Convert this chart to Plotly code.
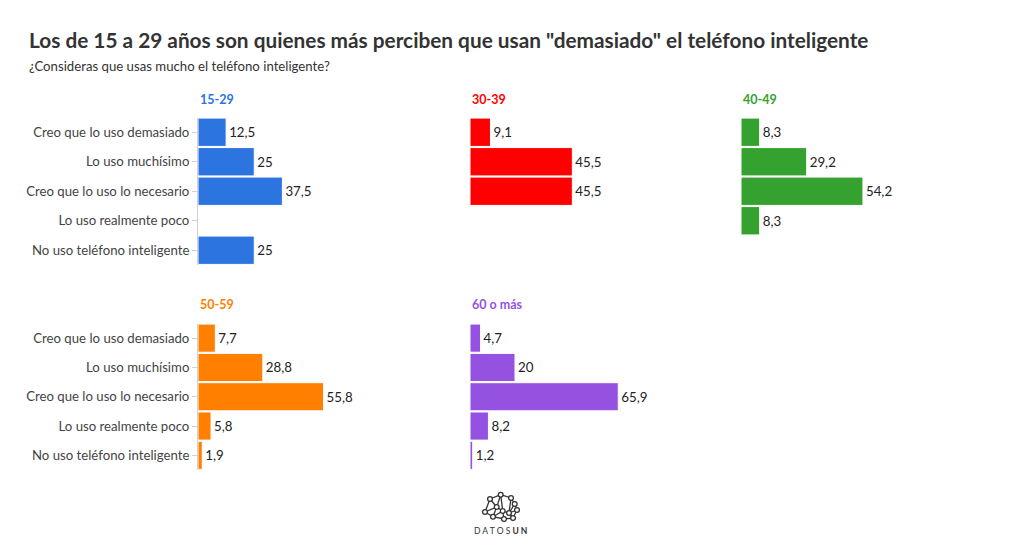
import plotly.graph_objects as go

W, H = 1020, 552

categories = [
    "Creo que lo uso demasiado",
    "Lo uso muchísimo",
    "Creo que lo uso lo necesario",
    "Lo uso realmente poco",
    "No uso teléfono inteligente",
]
groups = ["15-29", "30-39", "40-49", "50-59", "60 o más"]
v_15_29 = [12.5, 25, 37.5, None, 25]
v_30_39 = [9.1, 45.5, 45.5, None, None]
v_40_49 = [8.3, 29.2, 54.2, 8.3, None]
v_50_59 = [7.7, 28.8, 55.8, 5.8, 1.9]
v_60_mas = [4.7, 20, 65.9, 8.2, 1.2]
values = [v_15_29, v_30_39, v_40_49, v_50_59, v_60_mas]
colors = ["#2C74DF", "#FF0000", "#35A12E", "#FF7F00", "#9552E0"]

FONT = "Lato, Roboto, sans-serif"
ML, MR = 198, 54
PW = W - ML - MR

def px_x(p):
    return (p - ML) / PW

def px_y(p):
    return 1 - p / H

col_px = [(198, 423), (470, 695), (741, 966)]
row_px = [(117.5, 265), (323.5, 470)]
title_y = [99, 304]

fig = go.Figure()
layout_axes = {}
annotations = []
for i, (g, vals, c) in enumerate(zip(groups, values, colors)):
    r, cidx = divmod(i, 3)
    n = i + 1
    xa = "x" if n == 1 else f"x{n}"
    ya = "y" if n == 1 else f"y{n}"
    txt = [None if v is None else (f"{v:g}".replace(".", ",")) for v in vals]
    fig.add_trace(go.Bar(
        y=categories, x=vals, orientation="h", text=txt, textposition="outside",
        textfont=dict(size=13.3, color="#222", family=FONT),
        marker=dict(color=c, line=dict(color="white", width=1)),
        cliponaxis=False, xaxis=xa, yaxis=ya, showlegend=False,
        hovertemplate="%{y}: %{text}<extra>" + g + "</extra>",
    ))
    x0, x1 = col_px[cidx]
    y0, y1 = row_px[r]
    layout_axes["xaxis" if n == 1 else f"xaxis{n}"] = dict(
        domain=[px_x(x0), px_x(x1)], range=[0, 100], anchor=ya,
        visible=False, fixedrange=True)
    first_col = cidx == 0
    layout_axes["yaxis" if n == 1 else f"yaxis{n}"] = dict(
        domain=[px_y(y1), px_y(y0)], anchor=xa, type="category",
        categoryorder="array", categoryarray=categories, autorange="reversed",
        showticklabels=first_col, showline=first_col, linecolor="#d0d0d0", linewidth=1,
        ticks="outside" if first_col else "", ticklen=5, tickcolor="#d0d0d0",
        showgrid=False, zeroline=False, fixedrange=True,
        tickfont=dict(size=13.2, color="#444", family=FONT))
    annotations.append(dict(
        text=f"<b>{g}</b>", x=px_x(x0), y=px_y(title_y[r]), xref="paper", yref="paper",
        xanchor="left", yanchor="middle", showarrow=False,
        font=dict(size=12.5, color=c, family=FONT)))

annotations += [
    dict(text="<b>Los de 15 a 29 años son quienes más perciben que usan \"demasiado\" el teléfono inteligente</b>",
         x=px_x(27), y=px_y(40), xref="paper", yref="paper", xanchor="left", yanchor="middle",
         showarrow=False, font=dict(size=20.8, color="#333", family=FONT)),
    dict(text="¿Consideras que usas mucho el teléfono inteligente?",
         x=px_x(27), y=px_y(66), xref="paper", yref="paper", xanchor="left", yanchor="middle",
         showarrow=False, font=dict(size=13.2, color="#333", family=FONT)),
    dict(text="D A T O S <b>U N</b>", x=px_x(500), y=px_y(531), xref="paper", yref="paper",
         xanchor="center", yanchor="middle", showarrow=False,
         font=dict(size=8.5, color="#333", family=FONT)),
]

# logo network (decorative)
nodes = [(490, 499), (500.7, 494.7), (511, 498), (514.7, 504), (517, 510), (509, 513),
         (502.7, 511), (496.7, 507), (485, 512), (493, 516.7), (504, 519), (513, 518)]
edges = [(0, 1), (1, 2), (2, 3), (3, 4), (4, 5), (5, 6), (6, 7), (7, 0), (0, 8), (8, 9),
         (9, 10), (10, 11), (11, 4), (7, 9), (6, 10), (5, 11), (1, 7), (1, 6), (2, 5), (3, 5),
         (7, 8), (6, 9)]
shapes = []
for a, b in edges:
    shapes.append(dict(type="line", xref="paper", yref="paper",
                       x0=px_x(nodes[a][0]), y0=px_y(nodes[a][1]),
                       x1=px_x(nodes[b][0]), y1=px_y(nodes[b][1]),
                       line=dict(color="#333", width=1.3)))
for (x, y) in nodes:
    rr = 2.4
    shapes.append(dict(type="circle", xref="paper", yref="paper",
                       x0=px_x(x - rr), x1=px_x(x + rr), y0=px_y(y + rr), y1=px_y(y - rr),
                       fillcolor="white", line=dict(color="#333", width=1.3)))

fig.update_layout(
    width=W, height=H, margin=dict(l=ML, r=MR, t=0, b=0),
    paper_bgcolor="white", plot_bgcolor="white",
    bargap=0.04, font=dict(family=FONT, color="#333"),
    annotations=annotations, shapes=shapes, **layout_axes,
)

fig.write_html("out.html")
